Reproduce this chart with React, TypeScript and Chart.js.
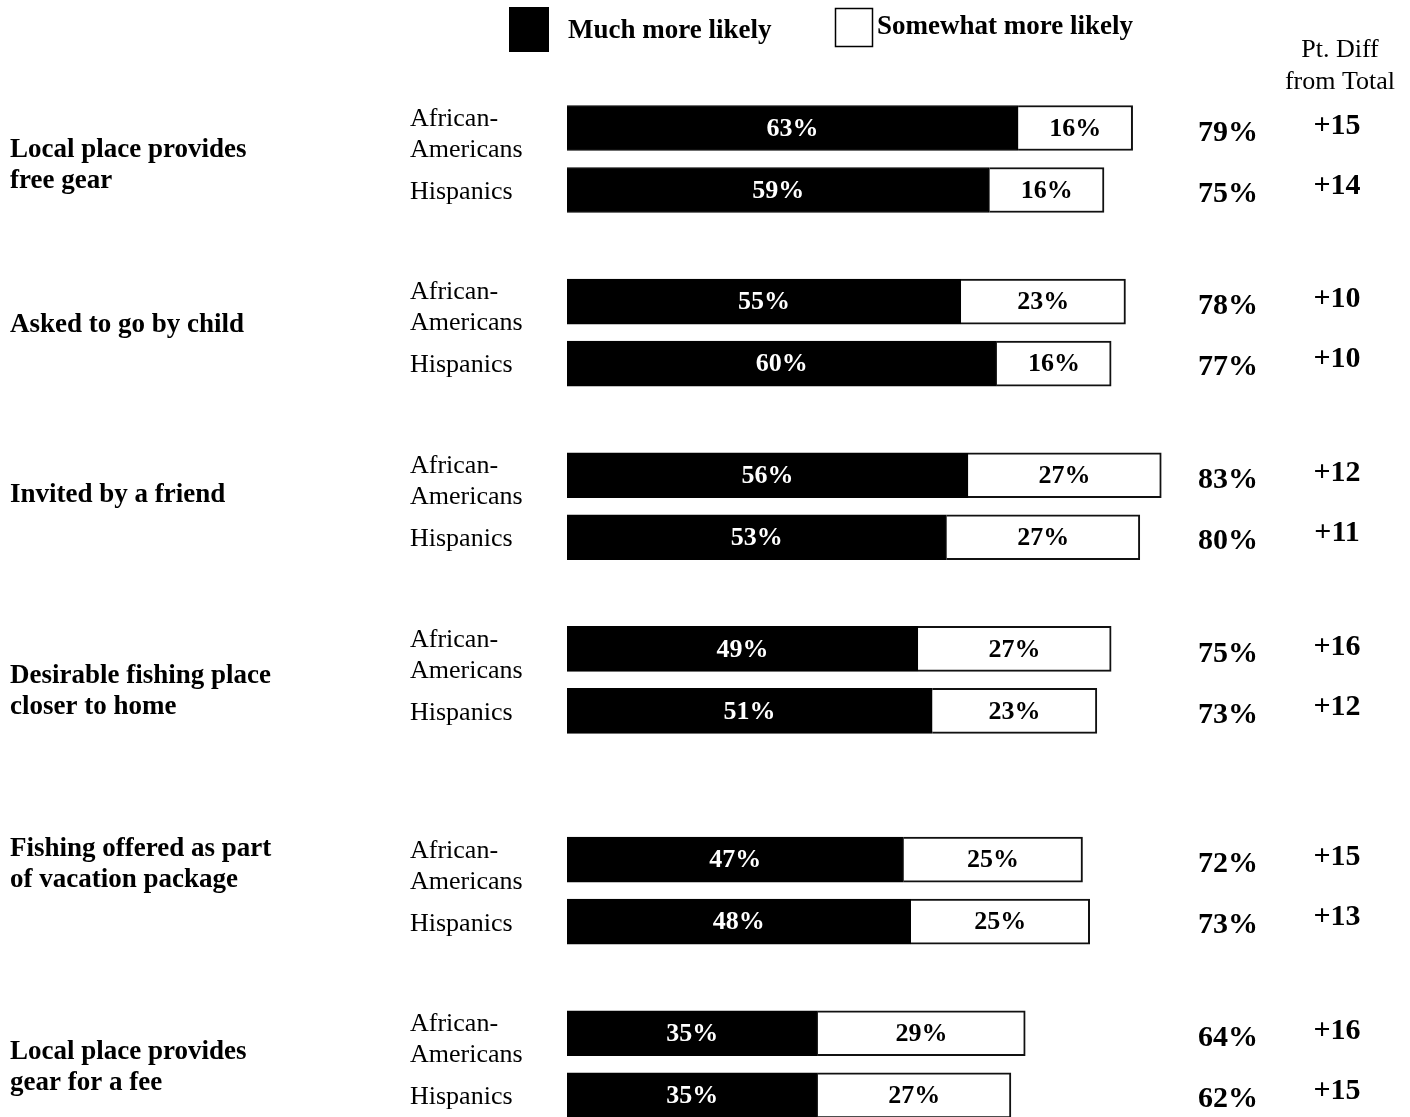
import React, { useEffect, useRef } from "react";
import { Chart, registerables } from "chart.js";

Chart.register(...registerables);

// ---------- data ----------
const categories: string[][] = [
  ["Local place provides", "free gear"],
  ["Asked to go by child"],
  ["Invited by a friend"],
  ["Desirable fishing place", "closer to home"],
  ["Fishing offered as part", "of vacation package"],
  ["Local place provides", "gear for a fee"],
];
const groupLabels: string[][] = [["African-", "Americans"], ["Hispanics"]];
const seriesNames = ["Much more likely", "Somewhat more likely"];

const muchMoreAA = [63, 55, 56, 49, 47, 35];
const muchMoreHisp = [59, 60, 53, 51, 48, 35];
const somewhatAA = [16, 23, 27, 27, 25, 29];
const somewhatHisp = [16, 16, 27, 23, 25, 27];
const totalAA = [79, 78, 83, 75, 72, 64];
const totalHisp = [75, 77, 80, 73, 73, 62];
const diffAA = [15, 10, 12, 16, 15, 16];
const diffHisp = [14, 10, 11, 12, 13, 15];

// ---------- layout (not data) ----------
const GROUP_STEP = 2.8;
const PAIR_STEP = 1;
const EXTRA_GAP_FROM = 4;
const EXTRA_GAP = 0.6;
const CAT_LABEL_SHIFT = [7, -8, -11, 12, -26, 3];
const FONT = '"Liberation Serif", "Times New Roman", Times, serif';

function rowPos(g: number, m: number) {
  return g * GROUP_STEP + (g >= EXTRA_GAP_FROM ? EXTRA_GAP : 0) + m * PAIR_STEP;
}

export default function App() {
  const canvasRef = useRef<HTMLCanvasElement | null>(null);

  useEffect(() => {
    document.body.style.margin = "0";
    const canvas = canvasRef.current;
    if (!canvas) return;

    const much: { x: number; y: number }[] = [];
    const some: { x: number; y: number }[] = [];
    categories.forEach((_, g) => {
      much.push({ x: muchMoreAA[g], y: rowPos(g, 0) });
      much.push({ x: muchMoreHisp[g], y: rowPos(g, 1) });
      some.push({ x: somewhatAA[g], y: rowPos(g, 0) });
      some.push({ x: somewhatHisp[g], y: rowPos(g, 1) });
    });

    const textPlugin = {
      id: "textPlugin",
      afterDraw(chart: any) {
        const ctx: CanvasRenderingContext2D = chart.ctx;
        const ys = chart.scales.y;
        ctx.save();
        ctx.textBaseline = "middle";

        // legend
        ctx.fillStyle = "#000";
        ctx.fillRect(509, 7, 40, 45);
        ctx.fillStyle = "#fff";
        ctx.fillRect(835.5, 8.5, 37, 38);
        ctx.strokeStyle = "#000";
        ctx.lineWidth = 1.5;
        ctx.strokeRect(835.5, 8.5, 37, 38);
        ctx.fillStyle = "#000";
        ctx.font = `bold 27px ${FONT}`;
        ctx.textAlign = "left";
        ctx.fillText(seriesNames[0], 568, 31);
        ctx.fillText(seriesNames[1], 877, 27);

        // header
        ctx.font = `26px ${FONT}`;
        ctx.textAlign = "center";
        ctx.fillText("Pt. Diff", 1340, 50);
        ctx.fillText("from Total", 1340, 82);

        categories.forEach((lines, g) => {
          const yA = ys.getPixelForValue(rowPos(g, 0));
          const yH = ys.getPixelForValue(rowPos(g, 1));
          // category labels
          ctx.font = `bold 27px ${FONT}`;
          ctx.textAlign = "left";
          const mid = (yA + yH) / 2 + CAT_LABEL_SHIFT[g];
          const lh = 31;
          lines.forEach((ln, i) => {
            ctx.fillText(ln, 10, mid + (i - (lines.length - 1) / 2) * lh);
          });
          // group labels
          ctx.font = `26px ${FONT}`;
          ctx.fillText(groupLabels[0][0], 410, yA - 9);
          ctx.fillText(groupLabels[0][1], 410, yA + 22);
          ctx.fillText(groupLabels[1][0], 410, yH + 2);
          // totals and diffs
          ctx.font = `bold 30px ${FONT}`;
          ctx.textAlign = "center";
          ctx.fillText(`${totalAA[g]}%`, 1228, yA + 5);
          ctx.fillText(`${totalHisp[g]}%`, 1228, yH + 4);
          ctx.fillText(`+${diffAA[g]}`, 1337, yA - 2);
          ctx.fillText(`+${diffHisp[g]}`, 1337, yH - 4);
        });

        // bar value labels
        ctx.font = `bold 26px ${FONT}`;
        ctx.textAlign = "center";
        chart.data.datasets.forEach((ds: any, di: number) => {
          const meta = chart.getDatasetMeta(di);
          meta.data.forEach((el: any, j: number) => {
            const v = ds.data[j].x;
            ctx.fillStyle = di === 0 ? "#fff" : "#000";
            ctx.fillText(`${v}%`, (el.x + el.base) / 2, el.y + 1);
          });
        });
        ctx.restore();
      },
    };

    const chart = new Chart(canvas, {
      type: "bar",
      data: {
        datasets: [
          {
            label: seriesNames[0],
            data: much as any,
            backgroundColor: "#000",
            borderColor: "#000",
            borderWidth: 1,
            barThickness: 45,
            clip: false as any,
          },
          {
            label: seriesNames[1],
            data: some as any,
            backgroundColor: "#fff",
            borderColor: "#111",
            borderWidth: 2,
            barThickness: 45,
            clip: false as any,
          },
        ],
      },
      options: {
        indexAxis: "y",
        animation: false,
        responsive: true,
        maintainAspectRatio: false,
        layout: { padding: { left: 567, right: 127, top: 66, bottom: 0 } },
        scales: {
          x: { type: "linear", stacked: true, min: 0, max: 100, display: false, offset: false },
          y: { type: "linear", stacked: true, reverse: true, min: -1, max: 15.95, display: false, offset: false },
        },
        plugins: { legend: { display: false }, tooltip: { enabled: false } },
      },
      plugins: [textPlugin],
    });

    return () => chart.destroy();
  }, []);

  return (
    <div style={{ position: "relative", width: 1410, height: 1117, background: "#fff", overflow: "hidden" }}>
      <canvas ref={canvasRef} />
    </div>
  );
}
